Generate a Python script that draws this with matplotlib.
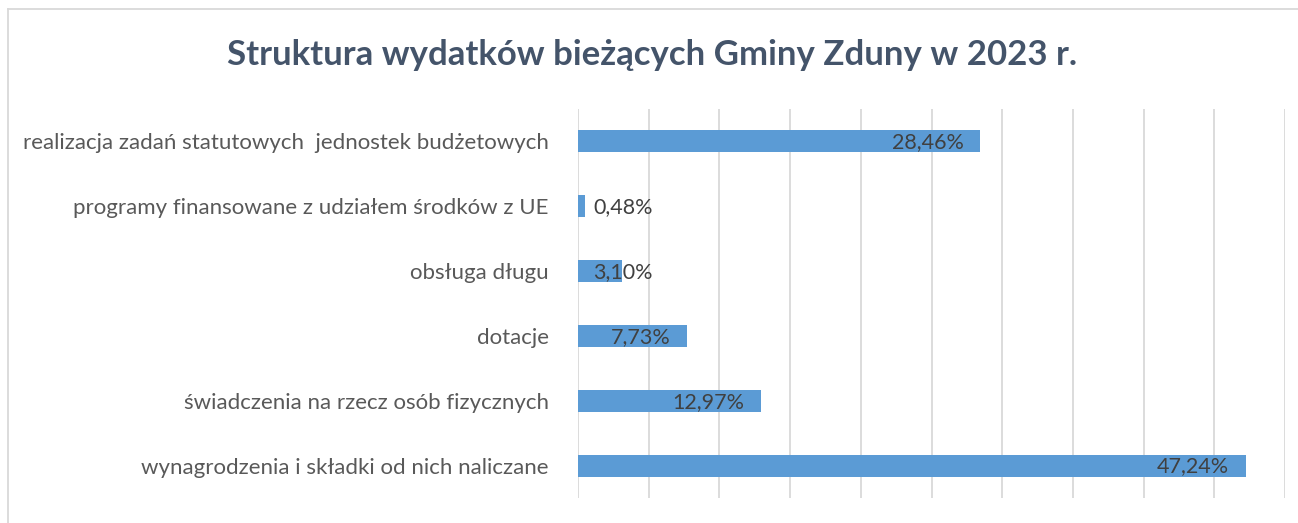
import numpy as np
import matplotlib.pyplot as plt
from matplotlib.lines import Line2D

categories = [
    "wynagrodzenia i składki od nich naliczane",
    "świadczenia na rzecz osób fizycznych",
    "dotacje",
    "obsługa długu",
    "programy finansowane z udziałem środków z UE",
    "realizacja zadań statutowych  jednostek budżetowych",
]
values = [47.24, 12.97, 7.73, 3.10, 0.48, 28.46]
labels = ["47,24%", "12,97%", "7,73%", "3,10%", "0,48%", "28,46%"]

W, H = 1298, 523


def main():
    plt.rcParams['font.family'] = ['Lato', 'DejaVu Sans']
    fig = plt.figure(figsize=(W / 100, H / 100), dpi=100)
    ax = fig.add_axes([578 / W, 1 - 498 / H, (1285 - 578) / W, (498 - 109) / H])

    y = np.arange(len(categories))
    ax.barh(y, values, height=0.34, color='#5B9BD5', zorder=3)

    ax.set_xlim(0, 50)
    ax.set_ylim(-0.5, len(categories) - 0.5)
    ax.set_xticks(np.arange(0, 51, 5))
    ax.xaxis.grid(True, color='#D9D9D9', linewidth=1.3, zorder=0)
    ax.tick_params(axis='x', length=0, labelbottom=False)
    ax.tick_params(axis='y', length=0, pad=21, labelsize=16, labelcolor='#595959')
    ax.set_yticks(y)
    ax.set_yticklabels(categories)
    for s in ax.spines.values():
        s.set_visible(False)

    for yi, v, lab in zip(y, values, labels):
        if v < 5:
            ax.annotate(lab, (0, yi), xytext=(15, -1), textcoords='offset pixels',
                        ha='left', va='center', fontsize=15.5, color='#404040', zorder=4)
        else:
            ax.annotate(lab, (v, yi), xytext=(-17, -1), textcoords='offset pixels',
                        ha='right', va='center', fontsize=15.5, color='#404040', zorder=4)

    fig.text(652 / W, 1 - 55 / H, "Struktura wydatków bieżących Gminy Zduny w 2023 r.",
             ha='center', va='center', fontsize=25, fontweight='bold', color='#44546A')

    # chart border
    fig.add_artist(Line2D([8 / W, 1], [1 - 9 / H, 1 - 9 / H], color='#D9D9D9', linewidth=1.3))
    fig.add_artist(Line2D([8 / W, 8 / W], [0, 1 - 9 / H], color='#D9D9D9', linewidth=1.3))

    fig.savefig('out.png', dpi=100)


if __name__ == "__main__":
    main()
